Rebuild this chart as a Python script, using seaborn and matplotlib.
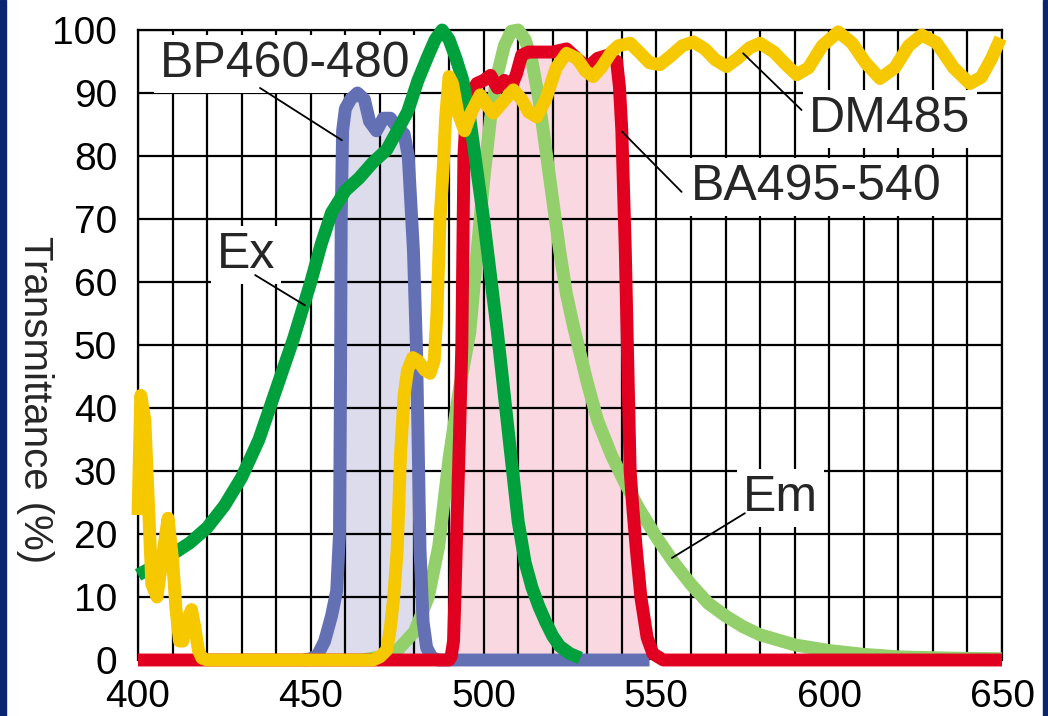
import numpy as np
import matplotlib
matplotlib.use("Agg")
import matplotlib.pyplot as plt
from matplotlib.patches import Rectangle
import seaborn as sns

# Ex - excitation spectrum (dark green)
ex_nm = [400, 405, 410, 415, 420, 425, 430, 435, 440, 445, 450, 453, 456, 460, 464,
         468, 472, 475, 478, 481, 484, 486, 488, 490, 492, 494, 496, 498, 500, 502,
         504, 506, 508, 510, 512, 514, 516, 518, 520, 522, 525, 528]
ex_t = [13.5, 15, 16.8, 18.6, 21, 24.5, 29, 35, 43, 51, 60, 66, 71, 74.5, 76.5,
        79, 81, 84, 87, 92, 96, 98.5, 100, 98.5, 95.5, 92, 86, 78, 70, 61,
        52, 42, 32, 22, 15.5, 11.5, 8.5, 6, 3.8, 2.2, 1, 0.3]

# Em - emission spectrum (light green)
em_nm = [465, 470, 475, 480, 484, 487, 490, 493, 496, 498, 500, 502, 504, 506, 508,
         510, 512, 514, 516, 518, 520, 522, 524, 526, 528, 530, 533, 537, 541, 545,
         550, 555, 560, 565, 570, 575, 580, 590, 600, 610, 620, 635, 650]
em_t = [0, 0.5, 1.5, 4.5, 10, 18, 32, 43, 52, 64, 76, 86, 93, 97.5, 99.8,
        100, 98.5, 95, 89, 81, 73, 65, 58, 53, 48.5, 44, 38, 32.5, 28, 24,
        19.5, 15.5, 12, 9, 7, 5.3, 4, 2.4, 1.5, 0.9, 0.5, 0.3, 0.2]

# BP460-480 excitation filter (blue)
bp_nm = [448, 450, 452, 454, 456, 457.5, 458.3, 458.6, 458.8, 459.2, 460, 461.5, 463.5,
         465.5, 467, 469, 471, 473, 475, 477, 478.2, 479, 479.7, 480.6, 481.6, 482.5,
         483.5, 485, 487, 548]
bp_t = [0, 0.2, 0.8, 3, 7, 11, 20, 45, 70, 84, 87.5, 89, 90,
        89, 85.5, 84, 86, 86, 84.5, 83.5, 80, 72, 65, 49, 17.5, 6,
        2, 0.4, 0, 0]

# BA495-540 barrier filter (red)
ba_nm = [400, 490, 490.6, 491.3, 491.7, 492.2, 493, 493.7, 494, 494.3, 495, 496.5,
         498, 500, 502, 504, 506, 508, 509.5, 511, 513, 516, 520, 524, 527, 530,
         533, 536, 538.5, 539.3, 540, 541, 542.4, 543.2, 544.2, 545.5, 547.3, 549,
         552, 650]
ba_t = [0, 0, 0.5, 3, 10, 20, 35, 50, 65, 80, 87, 90,
        91.5, 92, 92.8, 90.8, 92, 91, 93, 96, 96.5, 96.5, 96.5, 97, 95.5, 94,
        95.5, 96, 95, 91, 84, 65, 30, 24, 17.5, 10, 3.6, 1,
        0, 0]

# DM485 dichroic mirror (yellow)
dm_nm = [400, 400.8, 402, 403, 404, 405.5, 407, 408.7, 410, 411, 412, 413, 414, 415.5,
         416.5, 417.5, 418.5, 420, 468, 470, 472, 473, 474, 475, 476, 477, 478,
         479.5, 481, 483, 484.5, 485.7, 486.5, 487.4, 488.3, 489, 490, 491, 492.5,
         494.5, 496.5, 499, 501, 502.8, 505.5, 508.6, 511, 513, 515.4, 518, 521,
         524, 527, 529.5, 531.7, 534, 537, 539, 542.4, 545, 548, 551, 554, 557.5,
         560.7, 564, 567, 570.3, 573.5, 577, 580, 584, 587.5, 590.6, 594, 598,
         602.6, 606.5, 610.5, 614.7, 619, 623, 626.8, 631, 636, 640.7, 644, 647,
         649.6]
dm_t = [23, 42, 38, 25, 12, 10, 16, 22.5, 16, 8, 3, 3, 6, 8,
        5, 1.5, 0.3, 0, 0, 0.5, 1.6, 5, 10, 17.5, 33, 42, 46,
        48, 47.5, 46, 45.5, 47.5, 55, 70, 78, 86, 92.6, 91.5, 87,
        84, 87, 89.7, 88, 86.8, 88.5, 90.5, 89, 87, 86.2, 89, 94,
        96.3, 95.5, 93.5, 92.6, 94, 96.5, 97.5, 97.9, 96.5, 94.8, 94.5, 95.8, 97.5,
        98.1, 97, 95.3, 94.2, 95.5, 97.2, 97.9, 96.5, 94.5, 92.9, 94, 97.5,
        99.7, 98, 94.8, 92.3, 94, 97.5, 99.2, 98, 94, 91.5, 92.5, 95.5,
        98.7]

x_major = [400, 450, 500, 550, 600, 650]
y_major = [0, 10, 20, 30, 40, 50, 60, 70, 80, 90, 100]

sns.set_theme(style="white")
plt.rcParams["font.family"] = ["Liberation Sans", "DejaVu Sans"]

fig = plt.figure(figsize=(10.48, 7.16), dpi=100)
fig.patch.set_facecolor("white")
ax = fig.add_axes([138 / 1048, 56 / 716, 864 / 1048, 630 / 716])

navy = "#0a2673"
fig.add_artist(Rectangle((0, 0), 6 / 1048, 1, transform=fig.transFigure,
                         color=navy, zorder=10))
fig.add_artist(Rectangle((1043 / 1048, 0), 5 / 1048, 1, transform=fig.transFigure,
                         color=navy, zorder=10))

# filled pass bands
ax.fill_between(bp_nm, bp_t, 0, color="#dcdced", lw=0, zorder=0.2)
ax.fill_between(ba_nm, ba_t, 0, color="#f9d8e1", lw=0, zorder=0.2)

line_kw = dict(lw=9.3, clip_on=False, solid_capstyle="butt", solid_joinstyle="round",
               sort=False, estimator=None, legend=False)
sns.lineplot(x=em_nm, y=em_t, ax=ax, color="#93cf6a", zorder=3, **line_kw)
sns.lineplot(x=bp_nm, y=bp_t, ax=ax, color="#6470b4", zorder=4, **line_kw)
sns.lineplot(x=ba_nm, y=ba_t, ax=ax, color="#e1001f", zorder=5, **line_kw)
sns.lineplot(x=ex_nm, y=ex_t, ax=ax, color="#00a03c", zorder=6, **line_kw)
sns.lineplot(x=dm_nm, y=dm_t, ax=ax, color="#f5c800", zorder=7, **line_kw)

ax.set_xlim(400, 650)
ax.set_ylim(0, 100)
ax.set_xticks(x_major)
ax.set_xticks(np.arange(400, 651, 10), minor=True)
ax.set_yticks(y_major)
ax.set_axisbelow(True)
ax.grid(True, which="both", color="black", lw=1.6)
ax.tick_params(which="both", length=0, labelsize=28, colors="black")
ax.tick_params(axis="y", pad=15)
ax.tick_params(axis="x", pad=14)
for s in ax.spines.values():
    s.set_color("black")
    s.set_linewidth(1.6)
    s.set_zorder(2.5)
ax.spines["bottom"].set_visible(False)

ax.set_xlabel("")
ax.set_ylabel("Transmittance (%)", fontsize=29, rotation=270, va="center", ha="center")
ax.yaxis.set_label_coords(-0.119, 0.414)

box = dict(boxstyle="square,pad=0.12", facecolor="white", edgecolor="none")
labels = [
    ("BP460-480", (442.5, 94.6), (435.3, 90.8), (459.0, 82.5)),
    ("Ex", (431.2, 64.3), (433.9, 61.1), (448.3, 56.3)),
    ("DM485", (617.6, 85.9), (592.0, 87.3), (575.1, 96.3)),
    ("BA495-540", (596.2, 75.1), (557.3, 74.3), (540.0, 83.9)),
    ("Em", (585.8, 25.7), (575.6, 23.3), (554.5, 16.2)),
]
for text, pos, p0, p1 in labels:
    ax.plot([p0[0], p1[0]], [p0[1], p1[1]], color="black", lw=1.3, zorder=8)
    ax.text(pos[0], pos[1], text, fontsize=36, ha="center", va="center",
            bbox=box, zorder=1)

fig.savefig("out.png", dpi=100)
